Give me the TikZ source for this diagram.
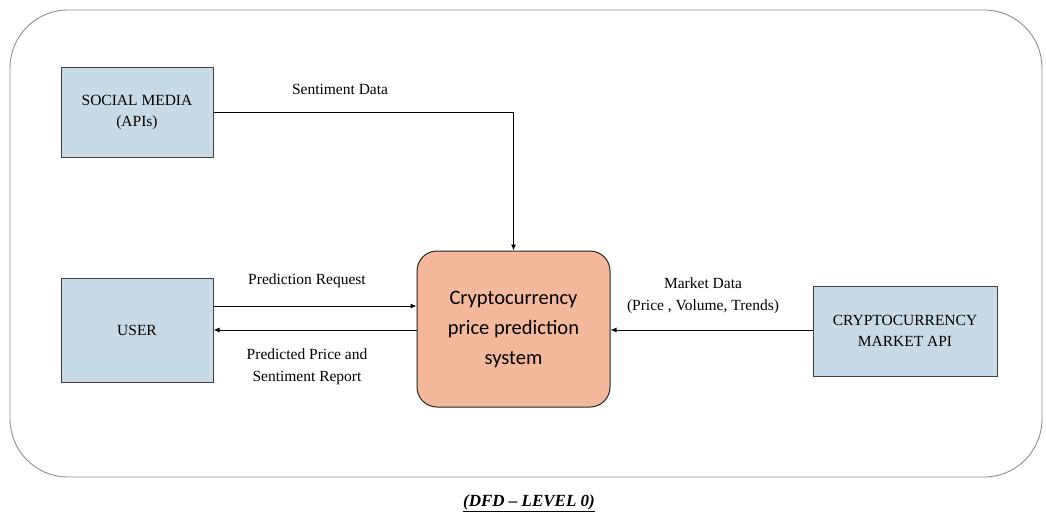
\documentclass[tikz,border=0pt]{standalone}
\usepackage{fontspec}
\setmainfont{Liberation Serif}
\newfontfamily\boxsans{Carlito}
\usetikzlibrary{arrows.meta}
\definecolor{entblue}{HTML}{C9DAE7}
\definecolor{procfill}{HTML}{F4B89C}
\definecolor{framegray}{HTML}{8E8E8E}
\begin{document}
\begin{tikzpicture}[x=1pt,y=-1pt,
 entity/.style={draw=black!75, line width=1pt, fill=entblue, align=center, font=\fontsize{15.5}{21}\selectfont, inner sep=0pt},
 proc/.style={draw=black!85, line width=1pt, fill=procfill, rounded corners=20pt, align=center, inner sep=0pt, font=\boxsans\fontsize{20.5}{30}\selectfont},
 flow/.style={line width=1pt, -{Latex[length=6pt,width=5pt]}},
 lbl/.style={font=\fontsize{15.5}{22}\selectfont, align=center, inner sep=0pt}]
\useasboundingbox (0,0) rectangle (1046,524);
\draw[framegray, line width=0.9pt, rounded corners=58pt] (10,10) rectangle (1042,477);
\node[entity, minimum width=152pt, minimum height=89pt] (social) at (137,112.5) {SOCIAL MEDIA\\(APIs)};
\node[entity, minimum width=152pt, minimum height=104pt] (user) at (137,330) {USER};
\node[entity, minimum width=184pt, minimum height=90pt] (market) at (905,331) {CRYPTOCURRENCY\\MARKET API};
\node[proc, minimum width=193pt, minimum height=156pt] (proc) at (513.5,329) {Cryptocurrency\\price prediction\\system};
\draw[flow] (social.east) -| (proc.north);
\draw[flow] (user.east |- 0,306) -- (proc.west |- 0,306);
\draw[flow] (proc.west |- 0,330) -- (user.east |- 0,330);
\draw[flow] (market.west |- 0,330) -- (proc.east |- 0,330);
\node[lbl] (lsent) at (340,89) {Sentiment Data};
\node[lbl] (lreq) at (307,281) {Prediction Request};
\node[lbl] (lresp) at (307,367) {Predicted Price and\\Sentiment Report};
\node[lbl] (lmkt) at (703,296) {Market Data\\(Price , Volume, Trends)};
\node[font=\fontsize{17}{20}\selectfont\bfseries\itshape, inner sep=0pt] (cap) at (529,503) {\underline{(DFD -- LEVEL 0)}};
\end{tikzpicture}
\end{document}
